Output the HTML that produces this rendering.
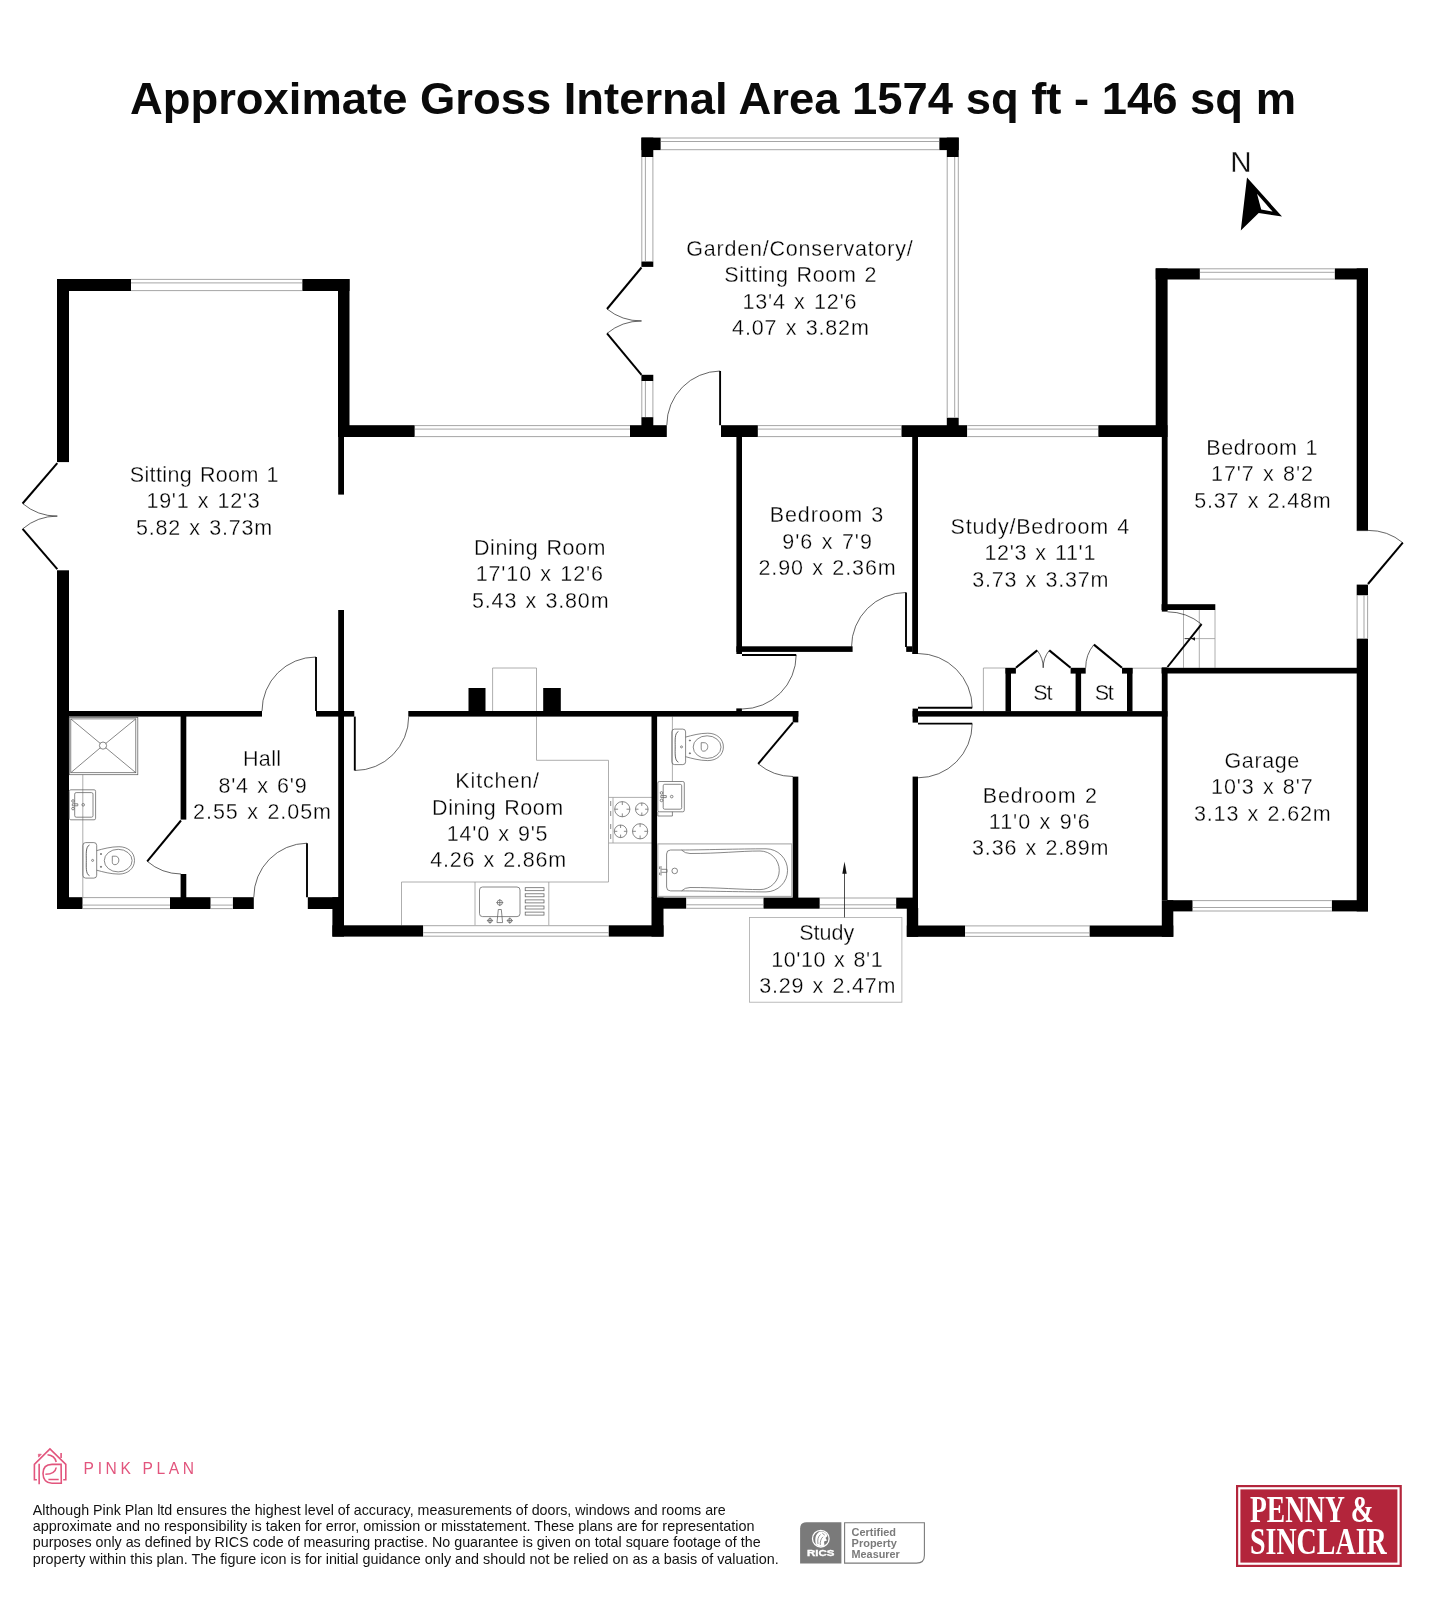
<!DOCTYPE html>
<html lang="en"><head><meta charset="utf-8"><title>Floor plan - Approximate Gross Internal Area 1574 sq ft</title>
<style>
html,body{margin:0;padding:0;background:#fff}
body{width:1435px;height:1600px;overflow:hidden;font-family:"Liberation Sans",sans-serif}
svg{display:block;will-change:transform}
.rm{font-family:"Liberation Sans",sans-serif;font-size:21.5px;fill:#000;stroke:#fff;stroke-width:.3px}
.fx{fill:none;stroke:#606060;stroke-width:.75}
.gl{fill:none;stroke:#999;stroke-width:.8}
</style></head><body>
<svg width="1435" height="1600" viewBox="0 0 1435 1600">
<rect width="1435" height="1600" fill="#fff"/>
<text x="713" y="113.5" text-anchor="middle" font-family="Liberation Sans, sans-serif" font-weight="700" font-size="44.4" fill="#0a0a0a" textLength="1166" lengthAdjust="spacingAndGlyphs">Approximate Gross Internal Area 1574 sq ft - 146 sq m</text>
<g class="gl">
<path d="M492.6 711V668H536.5V711"/>
<path d="M536.5 716.6V760.3H608.5V882H401.5V925.4"/>
<path d="M608.5 797.4H652.4M608.5 843H652.4M613 797.4V843"/>
<path d="M475 882V925.4M548.8 882V925.4"/>
<path d="M82.8 774.7V897.2"/>
<path d="M672.4 716.6V781.5"/>
<path d="M983.4 711V668H1005.5"/>
<path d="M1132.5 668.2H1162"/>
<path d="M1183.5 610V667.8M1199.3 610V667.8M1215 610V667.8M1183.5 638.6H1215"/>
<rect x="749.5" y="917.5" width="152.4" height="84.7" fill="#fff" stroke="#aaa"/>
</g>
<g fill="#000">
<rect x="57.0" y="279.0" width="12.0" height="183.1"/>
<rect x="57.0" y="570.3" width="12.0" height="338.7"/>
<rect x="57.0" y="279.0" width="74.0" height="12.0"/>
<rect x="302.2" y="279.0" width="47.3" height="12.0"/>
<rect x="338.0" y="279.0" width="11.5" height="158.0"/>
<rect x="338.2" y="437.0" width="5.8" height="57.6"/>
<rect x="338.2" y="610.0" width="5.8" height="288.0"/>
<rect x="338.0" y="425.2" width="76.8" height="11.8"/>
<rect x="630.0" y="425.2" width="36.8" height="11.8"/>
<rect x="69.0" y="711.0" width="193.0" height="5.6"/>
<rect x="316.0" y="711.0" width="38.3" height="5.6"/>
<rect x="408.3" y="711.0" width="390.0" height="5.6"/>
<rect x="180.6" y="716.0" width="5.7" height="103.6"/>
<rect x="180.6" y="874.0" width="5.7" height="24.0"/>
<rect x="57.0" y="897.2" width="25.7" height="11.8"/>
<rect x="170.0" y="897.2" width="40.7" height="11.8"/>
<rect x="232.7" y="897.2" width="21.1" height="11.8"/>
<rect x="307.8" y="897.2" width="36.2" height="11.8"/>
<rect x="332.4" y="897.2" width="11.6" height="39.4"/>
<rect x="332.4" y="925.3" width="90.9" height="11.3"/>
<rect x="608.5" y="925.3" width="55.0" height="11.3"/>
<rect x="651.5" y="716.0" width="5.6" height="182.0"/>
<rect x="651.5" y="897.6" width="12.0" height="39.0"/>
<rect x="657.0" y="897.6" width="29.4" height="11.1"/>
<rect x="763.3" y="897.6" width="56.5" height="11.1"/>
<rect x="896.1" y="897.6" width="21.9" height="11.1"/>
<rect x="468.5" y="688.0" width="17.0" height="23.5"/>
<rect x="543.2" y="688.0" width="17.6" height="23.5"/>
<rect x="792.7" y="711.0" width="5.6" height="11.4"/>
<rect x="792.7" y="776.6" width="5.6" height="121.4"/>
<rect x="641.4" y="137.6" width="19.4" height="12.5"/>
<rect x="641.4" y="137.6" width="11.9" height="19.4"/>
<rect x="939.2" y="137.6" width="19.5" height="12.5"/>
<rect x="946.8" y="137.6" width="11.9" height="19.4"/>
<rect x="641.4" y="261.3" width="11.9" height="5.6"/>
<rect x="641.4" y="374.8" width="11.9" height="6.2"/>
<rect x="641.4" y="417.1" width="11.9" height="8.9"/>
<rect x="946.8" y="417.5" width="11.9" height="8.5"/>
<rect x="721.0" y="425.2" width="36.9" height="11.8"/>
<rect x="901.3" y="425.2" width="66.0" height="11.8"/>
<rect x="1098.2" y="425.2" width="69.3" height="11.8"/>
<rect x="736.4" y="437.0" width="5.6" height="217.0"/>
<rect x="736.4" y="646.3" width="116.2" height="5.6"/>
<rect x="906.2" y="646.3" width="6.3" height="5.6"/>
<rect x="912.2" y="437.0" width="5.8" height="217.0"/>
<rect x="736.3" y="708.4" width="5.6" height="3.1"/>
<rect x="912.6" y="711.1" width="254.9" height="5.5"/>
<rect x="912.6" y="708.6" width="5.4" height="14.0"/>
<rect x="912.6" y="776.6" width="5.4" height="123.4"/>
<rect x="906.8" y="908.0" width="11.4" height="28.8"/>
<rect x="906.8" y="925.5" width="58.4" height="11.3"/>
<rect x="1089.4" y="925.5" width="83.9" height="11.3"/>
<rect x="1161.8" y="437.0" width="5.8" height="174.6"/>
<rect x="1161.8" y="667.4" width="5.8" height="232.8"/>
<rect x="1161.8" y="900.2" width="11.5" height="36.6"/>
<rect x="1155.7" y="268.4" width="11.9" height="168.6"/>
<rect x="1155.7" y="268.4" width="44.2" height="11.1"/>
<rect x="1334.6" y="268.4" width="33.4" height="11.1"/>
<rect x="1356.7" y="268.4" width="11.3" height="262.2"/>
<rect x="1356.7" y="584.6" width="11.3" height="10.9"/>
<rect x="1356.7" y="638.4" width="11.3" height="273.0"/>
<rect x="1161.6" y="604.2" width="53.7" height="5.8"/>
<rect x="1161.6" y="667.8" width="195.4" height="5.7"/>
<rect x="1167.0" y="900.2" width="25.7" height="11.2"/>
<rect x="1331.7" y="900.2" width="36.3" height="11.2"/>
<rect x="1005.5" y="668.0" width="5.5" height="43.5"/>
<rect x="1005.5" y="667.8" width="10.4" height="5.8"/>
<rect x="1075.6" y="668.0" width="5.5" height="43.5"/>
<rect x="1070.6" y="667.8" width="15.1" height="5.8"/>
<rect x="1127.0" y="668.0" width="5.5" height="43.5"/>
<rect x="1122.0" y="667.8" width="10.5" height="5.8"/>
</g>
<rect x="131.0" y="279.0" width="171.2" height="12.0" fill="#fff"/>
<line x1="131.0" y1="279.4" x2="302.2" y2="279.4" stroke="#808080" stroke-width="0.7"/>
<line x1="131.0" y1="290.6" x2="302.2" y2="290.6" stroke="#808080" stroke-width="0.7"/>
<line x1="131.0" y1="282.9" x2="302.2" y2="282.9" stroke="#808080" stroke-width="0.7"/>
<rect x="414.8" y="425.2" width="215.2" height="11.8" fill="#fff"/>
<line x1="414.8" y1="425.6" x2="630.0" y2="425.6" stroke="#808080" stroke-width="0.7"/>
<line x1="414.8" y1="436.6" x2="630.0" y2="436.6" stroke="#808080" stroke-width="0.7"/>
<line x1="414.8" y1="429.1" x2="630.0" y2="429.1" stroke="#808080" stroke-width="0.7"/>
<rect x="660.8" y="137.6" width="278.4" height="12.5" fill="#fff"/>
<line x1="660.8" y1="138.0" x2="939.2" y2="138.0" stroke="#808080" stroke-width="0.7"/>
<line x1="660.8" y1="149.7" x2="939.2" y2="149.7" stroke="#808080" stroke-width="0.7"/>
<line x1="660.8" y1="141.5" x2="939.2" y2="141.5" stroke="#808080" stroke-width="0.7"/>
<rect x="641.4" y="157.0" width="11.9" height="104.3" fill="#fff"/>
<line x1="641.8" y1="157.0" x2="641.8" y2="261.3" stroke="#808080" stroke-width="0.7"/>
<line x1="652.9" y1="157.0" x2="652.9" y2="261.3" stroke="#808080" stroke-width="0.7"/>
<line x1="645.4" y1="157.0" x2="645.4" y2="261.3" stroke="#808080" stroke-width="0.7"/>
<rect x="641.4" y="381.0" width="11.9" height="36.1" fill="#fff"/>
<line x1="641.8" y1="381.0" x2="641.8" y2="417.1" stroke="#808080" stroke-width="0.7"/>
<line x1="652.9" y1="381.0" x2="652.9" y2="417.1" stroke="#808080" stroke-width="0.7"/>
<line x1="645.4" y1="381.0" x2="645.4" y2="417.1" stroke="#808080" stroke-width="0.7"/>
<rect x="946.8" y="157.0" width="11.9" height="260.5" fill="#fff"/>
<line x1="947.2" y1="157.0" x2="947.2" y2="417.5" stroke="#808080" stroke-width="0.7"/>
<line x1="958.3" y1="157.0" x2="958.3" y2="417.5" stroke="#808080" stroke-width="0.7"/>
<line x1="954.7" y1="157.0" x2="954.7" y2="417.5" stroke="#808080" stroke-width="0.7"/>
<rect x="757.9" y="425.2" width="143.4" height="11.8" fill="#fff"/>
<line x1="757.9" y1="425.6" x2="901.3" y2="425.6" stroke="#808080" stroke-width="0.7"/>
<line x1="757.9" y1="436.6" x2="901.3" y2="436.6" stroke="#808080" stroke-width="0.7"/>
<line x1="757.9" y1="429.1" x2="901.3" y2="429.1" stroke="#808080" stroke-width="0.7"/>
<rect x="967.3" y="425.2" width="130.9" height="11.8" fill="#fff"/>
<line x1="967.3" y1="425.6" x2="1098.2" y2="425.6" stroke="#808080" stroke-width="0.7"/>
<line x1="967.3" y1="436.6" x2="1098.2" y2="436.6" stroke="#808080" stroke-width="0.7"/>
<line x1="967.3" y1="429.1" x2="1098.2" y2="429.1" stroke="#808080" stroke-width="0.7"/>
<rect x="1199.9" y="268.4" width="134.7" height="11.1" fill="#fff"/>
<line x1="1199.9" y1="268.8" x2="1334.6" y2="268.8" stroke="#808080" stroke-width="0.7"/>
<line x1="1199.9" y1="279.1" x2="1334.6" y2="279.1" stroke="#808080" stroke-width="0.7"/>
<line x1="1199.9" y1="272.3" x2="1334.6" y2="272.3" stroke="#808080" stroke-width="0.7"/>
<rect x="1356.7" y="595.5" width="11.3" height="42.9" fill="#fff"/>
<line x1="1357.1" y1="595.5" x2="1357.1" y2="638.4" stroke="#808080" stroke-width="0.7"/>
<line x1="1367.6" y1="595.5" x2="1367.6" y2="638.4" stroke="#808080" stroke-width="0.7"/>
<line x1="1364.0" y1="595.5" x2="1364.0" y2="638.4" stroke="#808080" stroke-width="0.7"/>
<rect x="1192.7" y="900.2" width="139.0" height="11.2" fill="#fff"/>
<line x1="1192.7" y1="900.6" x2="1331.7" y2="900.6" stroke="#808080" stroke-width="0.7"/>
<line x1="1192.7" y1="911.0" x2="1331.7" y2="911.0" stroke="#808080" stroke-width="0.7"/>
<line x1="1192.7" y1="907.5" x2="1331.7" y2="907.5" stroke="#808080" stroke-width="0.7"/>
<rect x="965.2" y="925.5" width="124.2" height="11.3" fill="#fff"/>
<line x1="965.2" y1="925.9" x2="1089.4" y2="925.9" stroke="#808080" stroke-width="0.7"/>
<line x1="965.2" y1="936.4" x2="1089.4" y2="936.4" stroke="#808080" stroke-width="0.7"/>
<line x1="965.2" y1="932.9" x2="1089.4" y2="932.9" stroke="#808080" stroke-width="0.7"/>
<rect x="819.8" y="897.6" width="76.3" height="11.1" fill="#fff"/>
<line x1="819.8" y1="898.0" x2="896.1" y2="898.0" stroke="#808080" stroke-width="0.7"/>
<line x1="819.8" y1="908.3" x2="896.1" y2="908.3" stroke="#808080" stroke-width="0.7"/>
<line x1="819.8" y1="904.8" x2="896.1" y2="904.8" stroke="#808080" stroke-width="0.7"/>
<rect x="686.4" y="897.6" width="76.9" height="11.1" fill="#fff"/>
<line x1="686.4" y1="898.0" x2="763.3" y2="898.0" stroke="#808080" stroke-width="0.7"/>
<line x1="686.4" y1="908.3" x2="763.3" y2="908.3" stroke="#808080" stroke-width="0.7"/>
<line x1="686.4" y1="904.8" x2="763.3" y2="904.8" stroke="#808080" stroke-width="0.7"/>
<rect x="423.3" y="925.3" width="185.2" height="11.3" fill="#fff"/>
<line x1="423.3" y1="925.7" x2="608.5" y2="925.7" stroke="#808080" stroke-width="0.7"/>
<line x1="423.3" y1="936.2" x2="608.5" y2="936.2" stroke="#808080" stroke-width="0.7"/>
<line x1="423.3" y1="932.7" x2="608.5" y2="932.7" stroke="#808080" stroke-width="0.7"/>
<rect x="82.7" y="897.2" width="87.3" height="11.8" fill="#fff"/>
<line x1="82.7" y1="897.6" x2="170.0" y2="897.6" stroke="#808080" stroke-width="0.7"/>
<line x1="82.7" y1="908.6" x2="170.0" y2="908.6" stroke="#808080" stroke-width="0.7"/>
<line x1="82.7" y1="905.1" x2="170.0" y2="905.1" stroke="#808080" stroke-width="0.7"/>
<rect x="210.7" y="897.2" width="22.0" height="11.8" fill="#fff"/>
<line x1="210.7" y1="897.6" x2="232.7" y2="897.6" stroke="#808080" stroke-width="0.7"/>
<line x1="210.7" y1="908.6" x2="232.7" y2="908.6" stroke="#808080" stroke-width="0.7"/>
<line x1="210.7" y1="905.1" x2="232.7" y2="905.1" stroke="#808080" stroke-width="0.7"/>
<path d="M22.6 503.5A53.2 53.2 0 0 0 57.3 516.1" fill="none" stroke="#222" stroke-width="0.7"/>
<line x1="57.3" y1="463.2" x2="22.6" y2="503.5" stroke="#000" stroke-width="2.0"/>
<path d="M22.6 528.9A53.2 53.2 0 0 1 57.3 516.1" fill="none" stroke="#222" stroke-width="0.7"/>
<line x1="57.3" y1="569.2" x2="22.6" y2="528.9" stroke="#000" stroke-width="2.0"/>
<path d="M316.0 657.0A54.0 54.0 0 0 0 262.0 711.0" fill="none" stroke="#222" stroke-width="0.7"/>
<line x1="316.0" y1="711.0" x2="316.0" y2="657.0" stroke="#000" stroke-width="1.9"/>
<path d="M307.0 843.2A54.0 54.0 0 0 0 253.8 897.2" fill="none" stroke="#222" stroke-width="0.7"/>
<line x1="307.0" y1="897.2" x2="307.0" y2="843.2" stroke="#000" stroke-width="1.9"/>
<path d="M147.2 861.3A53.0 53.0 0 0 0 181.0 874.0" fill="none" stroke="#222" stroke-width="0.7"/>
<line x1="181.0" y1="820.5" x2="147.2" y2="861.3" stroke="#000" stroke-width="2.0"/>
<path d="M354.8 770.5A53.9 53.9 0 0 0 408.7 716.6" fill="none" stroke="#222" stroke-width="0.7"/>
<line x1="354.8" y1="716.6" x2="354.8" y2="770.5" stroke="#000" stroke-width="1.9"/>
<path d="M720.1 371.0A54.2 54.2 0 0 0 666.8 425.2" fill="none" stroke="#222" stroke-width="0.7"/>
<line x1="720.1" y1="425.2" x2="720.1" y2="371.0" stroke="#000" stroke-width="1.9"/>
<path d="M607.0 309.0A54.0 54.0 0 0 0 641.5 320.9" fill="none" stroke="#222" stroke-width="0.7"/>
<line x1="641.5" y1="267.5" x2="607.0" y2="309.0" stroke="#000" stroke-width="2.0"/>
<path d="M607.0 333.4A53.9 53.9 0 0 1 641.5 321.0" fill="none" stroke="#222" stroke-width="0.7"/>
<line x1="641.5" y1="374.8" x2="607.0" y2="333.4" stroke="#000" stroke-width="2.0"/>
<path d="M906.0 592.5A54.5 54.5 0 0 0 851.5 647.0" fill="none" stroke="#222" stroke-width="0.7"/>
<line x1="906.0" y1="647.0" x2="906.0" y2="592.5" stroke="#000" stroke-width="1.9"/>
<path d="M796.2 654.9A54.2 54.2 0 0 1 742.0 709.0" fill="none" stroke="#222" stroke-width="0.7"/>
<line x1="742.0" y1="654.9" x2="796.2" y2="654.9" stroke="#000" stroke-width="2.0"/>
<path d="M758.2 763.8A54.1 54.1 0 0 0 793.0 776.5" fill="none" stroke="#222" stroke-width="0.7"/>
<line x1="793.0" y1="722.4" x2="758.2" y2="763.8" stroke="#000" stroke-width="2.0"/>
<path d="M972.2 707.7A54.2 54.2 0 0 0 918.0 653.5" fill="none" stroke="#222" stroke-width="0.7"/>
<line x1="918.0" y1="707.7" x2="972.2" y2="707.7" stroke="#000" stroke-width="1.9"/>
<path d="M972.2 723.6A54.2 54.2 0 0 1 918.0 777.8" fill="none" stroke="#222" stroke-width="0.7"/>
<line x1="918.0" y1="723.6" x2="972.2" y2="723.6" stroke="#000" stroke-width="1.9"/>
<path d="M1201.6 624.2A54.7 54.7 0 0 0 1167.5 611.8" fill="none" stroke="#222" stroke-width="0.7"/>
<line x1="1167.5" y1="667.0" x2="1201.6" y2="624.2" stroke="#000" stroke-width="2.0"/>
<path d="M1402.8 542.7A54.0 54.0 0 0 0 1368.0 530.4" fill="none" stroke="#222" stroke-width="0.7"/>
<line x1="1368.0" y1="584.0" x2="1402.8" y2="542.7" stroke="#000" stroke-width="2.0"/>
<line x1="1356.8" y1="530.6" x2="1368" y2="530.6" stroke="#222" stroke-width=".7"/>
<path d="M1037.2 650.4A27.5 27.5 0 0 1 1043.2 667.8" fill="none" stroke="#222" stroke-width="0.7"/>
<line x1="1015.9" y1="667.8" x2="1037.2" y2="650.4" stroke="#000" stroke-width="2.1"/>
<path d="M1049.3 650.4A27.5 27.5 0 0 0 1043.2 667.8" fill="none" stroke="#222" stroke-width="0.7"/>
<line x1="1070.6" y1="667.8" x2="1049.3" y2="650.4" stroke="#000" stroke-width="2.1"/>
<path d="M1093.9 644.6A36.4 36.4 0 0 0 1085.7 667.8" fill="none" stroke="#222" stroke-width="0.7"/>
<line x1="1122.0" y1="667.8" x2="1093.9" y2="644.6" stroke="#000" stroke-width="2.1"/>
<g class="fx">
<rect x="69.3" y="717.4" width="68.5" height="57.3"/><rect x="70.8" y="718.9" width="65" height="53.8"/>
<path d="M70.8 718.9L100.4 743.5M135.8 718.9L105.7 743.5M70.8 772.7L100.4 747.7M135.8 772.7L105.7 747.7"/><circle cx="103" cy="745.6" r="3.6"/>
<rect x="69.3" y="789.8" width="26.3" height="30.0" rx="1.5"/>
<rect x="74.7" y="792.6" width="18.3" height="24.6" rx="1.5"/>
<circle cx="83.2" cy="804.8" r="1.3"/>
<path d="M72.3 803.8H77.8V805.8H72.3Z"/><circle cx="73.0" cy="801.0" r="1.3"/><circle cx="73.0" cy="808.6" r="1.3"/>
<rect x="82.9" y="842.6" width="13.8" height="35.5" rx="2.8"/>
<path d="M89.5 845.0C85.5 846.6 86.3 854.6 86.3 860.4C86.3 866.1 85.5 874.1 89.5 875.7" stroke="#333"/>
<path d="M96.7 850.6C102.9 848.9 110.9 846.7 118.9 846.7C127.9 846.7 134.5 852.4 134.5 860.4C134.5 868.4 127.9 874.1 118.9 874.1C110.9 874.1 102.9 871.9 96.7 870.2"/>
<ellipse cx="118.2" cy="860.6" rx="13.9" ry="11.3"/>
<path d="M112.3 856.2H115.3C120.3 856.2 119.9 864.7 114.9 864.7C112.7 864.7 112.3 863.4 112.3 861.4Z"/>
<circle cx="92.6" cy="860.4" r="1"/><circle cx="101.0" cy="854.0" r=".6" fill="#555"/><circle cx="101.0" cy="866.8" r=".6" fill="#555"/>
<rect x="671.8" y="729.1" width="13.8" height="35.5" rx="2.8"/>
<path d="M678.4 731.5C674.4 733.1 675.2 741.1 675.2 746.9C675.2 752.6 674.4 760.6 678.4 762.2" stroke="#333"/>
<path d="M685.6 737.1C691.8 735.4 699.8 733.2 707.8 733.2C716.8 733.2 723.4 738.9 723.4 746.9C723.4 754.9 716.8 760.6 707.8 760.6C699.8 760.6 691.8 758.4 685.6 756.7"/>
<ellipse cx="707.1" cy="747.1" rx="13.9" ry="11.3"/>
<path d="M701.2 742.7H704.2C709.2 742.7 708.8 751.2 703.8 751.2C701.6 751.2 701.2 749.9 701.2 747.9Z"/>
<circle cx="681.5" cy="746.9" r="1"/><circle cx="689.9" cy="740.5" r=".6" fill="#555"/><circle cx="689.9" cy="753.3" r=".6" fill="#555"/>
<rect x="657.8" y="781.5" width="26.5" height="30.3" rx="1.5"/>
<rect x="663.2" y="784.3" width="18.5" height="24.9" rx="1.5"/>
<circle cx="671.7" cy="796.6" r="1.3"/>
<path d="M660.8 795.6H666.3V797.6H660.8Z"/><circle cx="661.5" cy="792.9" r="1.3"/><circle cx="661.5" cy="800.4" r="1.3"/>
<path d="M657.8 811.8V816H672.4V811.8"/>
<rect x="657.8" y="843.9" width="134" height="52.5" stroke="#a8a8a8" stroke-width="1.1"/>
<path d="M670.5 850H681.5C700 850 740 848.8 766 848.8A21.55 21.55 0 0 1 766 891.9C740 891.9 700 890.9 681.5 890.9H670.5Q666.6 890.9 666.6 887V854Q666.6 850 670.5 850Z"/>
<path d="M681.5 850Q685 853.5 690 853.5C720 853.5 740 851 760 851A19.3 19.3 0 0 1 760 889.6C740 889.6 720 887.5 690 887.5Q685 887.5 681.5 890.9"/>
<circle cx="674.7" cy="870.9" r="2.8"/><path d="M661.5 869.3H667V872.3H661.5M661 866V875.6M659.6 866.5V869M659.6 872.6V875"/>
<circle cx="622.3" cy="809.2" r="7.6"/><circle cx="641.8" cy="809.2" r="6.3"/><circle cx="620.6" cy="831.3" r="6.3"/><circle cx="640.1" cy="831.3" r="7.6"/>
<path d="M622.3 801.6V805M622.3 813.4V816.8M614.7 809.2H618.1M626.5 809.2H629.9M641.8 802.9V805.9M641.8 812.5V815.5M635.5 809.2H638.5M645.1 809.2H648.1M620.6 825V828M620.6 834.6V837.6M614.3 831.3H617.3M623.9 831.3H626.9M640.1 823.7V827.1M640.1 835.5V838.9M632.5 831.3H635.9M644.3 831.3H647.7"/>
<path d="M610.7 801V806M610.7 811V816M610.7 824V829M610.7 834V839"/>
<rect x="479.5" y="887" width="40.5" height="29.6" rx="3"/>
<rect x="525.2" y="887.7" width="18.8" height="3"/>
<rect x="525.2" y="893.8" width="18.8" height="3"/>
<rect x="525.2" y="899.9" width="18.8" height="3"/>
<rect x="525.2" y="906" width="18.8" height="3"/>
<rect x="525.2" y="912.1" width="18.8" height="3"/>
<circle cx="499.8" cy="902.6" r="2.6"/><path d="M496.3 902.6H503.3M499.8 899.1V906.1"/>
<path d="M498.3 909.5H501.3L502.6 922.6H497Z"/>
<circle cx="490" cy="920.6" r="2.1"/><circle cx="509.8" cy="920.6" r="2.1"/><path d="M486.9 920.6H493.1M490 917.5V923.7M506.7 920.6H512.9M509.8 917.5V923.7"/>
</g>
<path d="M1185 638.6H1195" stroke="#222" stroke-width=".8" fill="none"/><path d="M1191 638.6L1195 637.2V640.8Z" fill="#111"/>
<path d="M844.5 872V917.4" stroke="#222" stroke-width=".8" fill="none"/><path d="M844.5 861.4L846.7 873.8H842.3Z" fill="#111"/>
<text x="1241" y="171.5" font-family="Liberation Sans, sans-serif" font-size="29.6" fill="#111" text-anchor="middle" stroke="#fff" stroke-width=".3">N</text>
<path d="M1247 177.5L1282 216.5L1258.7 213L1240.8 230.4Z" fill="#000"/><path d="M1257 193.8L1272.6 211.6L1261.2 209.6Z" fill="#fff"/>
<text class="rm" x="129.70" y="482.2" letter-spacing="0.37" word-spacing="1.5">Sitting Room 1</text>
<text class="rm" x="146.45" y="508.4" letter-spacing="0.76" word-spacing="1.5">19'1 x 12'3</text>
<text class="rm" x="135.90" y="535.0" letter-spacing="0.82" word-spacing="1.5">5.82 x 3.73m</text>
<text class="rm" x="474.00" y="554.8" letter-spacing="0.57" word-spacing="1.5">Dining Room</text>
<text class="rm" x="475.65" y="581.3" letter-spacing="0.88" word-spacing="1.5">17'10 x 12'6</text>
<text class="rm" x="472.00" y="607.5" letter-spacing="0.84" word-spacing="1.5">5.43 x 3.80m</text>
<text class="rm" x="686.35" y="255.9" letter-spacing="0.78" word-spacing="1.5">Garden/Conservatory/</text>
<text class="rm" x="724.35" y="282.2" letter-spacing="0.63" word-spacing="1.5">Sitting Room 2</text>
<text class="rm" x="742.40" y="308.6" letter-spacing="0.85" word-spacing="1.5">13'4 x 12'6</text>
<text class="rm" x="732.10" y="335.4" letter-spacing="0.86" word-spacing="1.5">4.07 x 3.82m</text>
<text class="rm" x="769.85" y="522.3" letter-spacing="0.85" word-spacing="1.5">Bedroom 3</text>
<text class="rm" x="782.35" y="549.1" letter-spacing="0.97" word-spacing="1.5">9'6 x 7'9</text>
<text class="rm" x="758.40" y="575.3" letter-spacing="0.91" word-spacing="1.5">2.90 x 2.36m</text>
<text class="rm" x="950.55" y="534.3" letter-spacing="0.79" word-spacing="1.5">Study/Bedroom 4</text>
<text class="rm" x="984.40" y="560.1" letter-spacing="0.69" word-spacing="1.5">12'3 x 11'1</text>
<text class="rm" x="972.30" y="586.5" letter-spacing="0.80" word-spacing="1.5">3.73 x 3.37m</text>
<text class="rm" x="1206.35" y="454.9" letter-spacing="0.57" word-spacing="1.5">Bedroom 1</text>
<text class="rm" x="1211.10" y="481.0" letter-spacing="0.90" word-spacing="1.5">17'7 x 8'2</text>
<text class="rm" x="1194.20" y="507.9" letter-spacing="0.84" word-spacing="1.5">5.37 x 2.48m</text>
<text class="rm" x="1224.45" y="767.7" letter-spacing="0.63" word-spacing="1.5">Garage</text>
<text class="rm" x="1211.10" y="794.0" letter-spacing="0.87" word-spacing="1.5">10'3 x 8'7</text>
<text class="rm" x="1193.90" y="820.7" letter-spacing="0.87" word-spacing="1.5">3.13 x 2.62m</text>
<text class="rm" x="982.70" y="802.6" letter-spacing="0.94" word-spacing="1.5">Bedroom 2</text>
<text class="rm" x="988.85" y="828.6" letter-spacing="0.97" word-spacing="1.5">11'0 x 9'6</text>
<text class="rm" x="972.10" y="855.3" letter-spacing="0.82" word-spacing="1.5">3.36 x 2.89m</text>
<text class="rm" x="242.90" y="765.8" letter-spacing="0.38" word-spacing="1.5">Hall</text>
<text class="rm" x="218.40" y="792.5" letter-spacing="0.83" word-spacing="1.5">8'4 x 6'9</text>
<text class="rm" x="193.05" y="818.9" letter-spacing="0.97" word-spacing="1.5">2.55 x 2.05m</text>
<text class="rm" x="455.35" y="788.1" letter-spacing="0.86" word-spacing="1.5">Kitchen/</text>
<text class="rm" x="432.10" y="814.5" letter-spacing="0.53" word-spacing="1.5">Dining Room</text>
<text class="rm" x="446.80" y="840.9" letter-spacing="0.78" word-spacing="1.5">14'0 x 9'5</text>
<text class="rm" x="430.15" y="867.2" letter-spacing="0.79" word-spacing="1.5">4.26 x 2.86m</text>
<text class="rm" x="799.20" y="940.2" letter-spacing="0.04" word-spacing="1.5">Study</text>
<text class="rm" x="771.15" y="966.6" letter-spacing="0.58" word-spacing="1.5">10'10 x 8'1</text>
<text class="rm" x="759.20" y="992.9" letter-spacing="0.82" word-spacing="1.5">3.29 x 2.47m</text>
<text class="rm" x="1033.35" y="699.8" letter-spacing="-1.24" word-spacing="1.5">St</text>
<text class="rm" x="1094.75" y="699.8" letter-spacing="-1.24" word-spacing="1.5">St</text>
<g fill="none" stroke="#e2557d" stroke-width="1.6" stroke-linejoin="miter">
<path d="M36.9 1479.7H34.4V1464.4L49.95 1448.9L65.8 1464.4V1479.7H63.2"/>
<path d="M39.15 1463.7V1484.3M61.1 1452.9V1458.1"/>
<path d="M47.5 1454.8C52 1455.2 55.3 1458 56.2 1462"/>
<path d="M61.1 1464.4H52C46 1464.4 43 1468 43 1473.6C43 1479.6 46.5 1483.2 52 1483.2H61.3Z"/>
<path d="M56.2 1467.5C55.5 1472 51.5 1474.3 45.4 1474.3M48.4 1479.5H58.7"/>
<path d="M38.3 1454.2H41.4L38.6 1457.2Z" fill="#e2557d" stroke-width=".6"/>
</g>
<text x="83.6" y="1473.5" font-family="Liberation Sans, sans-serif" font-size="15.6" fill="#e2557d" textLength="110.5" lengthAdjust="spacing">PINK PLAN</text>
<text x="32.8" y="1514.5" font-family="Liberation Sans, sans-serif" font-size="14.4" fill="#111" textLength="693.0" lengthAdjust="spacingAndGlyphs">Although Pink Plan ltd ensures the highest level of accuracy, measurements of doors, windows and rooms are</text>
<text x="32.8" y="1530.8" font-family="Liberation Sans, sans-serif" font-size="14.4" fill="#111" textLength="721.6" lengthAdjust="spacingAndGlyphs">approximate and no responsibility is taken for error, omission or misstatement. These plans are for representation</text>
<text x="32.8" y="1547.2" font-family="Liberation Sans, sans-serif" font-size="14.4" fill="#111" textLength="727.8" lengthAdjust="spacingAndGlyphs">purposes only as defined by RICS code of measuring practise. No guarantee is given on total square footage of the</text>
<text x="32.8" y="1563.5" font-family="Liberation Sans, sans-serif" font-size="14.4" fill="#111" textLength="745.9" lengthAdjust="spacingAndGlyphs">property within this plan. The figure icon is for initial guidance only and should not be relied on as a basis of valuation.</text>
<path d="M806.4 1522.3H841.4V1563.6H800.1V1528.6Q800.1 1522.3 806.4 1522.3Z" fill="#7a7a7a"/>
<path d="M844.6 1522.8H924.4V1555.5Q924.4 1563.1 916.5 1563.1H844.6Z" fill="#fff" stroke="#7a7a7a" stroke-width="1.1"/>
<circle cx="820.8" cy="1538.7" r="8.3" fill="none" stroke="#fff" stroke-width="1.3"/><path d="M816 1544.5C814.5 1539 815.5 1534 819.5 1531.8C823 1530.8 826.5 1532.5 827.5 1536L825.5 1538L827 1540.5L824 1541.5L824.5 1545.5C821.5 1547 818 1546.5 816 1544.5Z" fill="#fff"/><path d="M818 1544C817.3 1540 818 1536.5 820.5 1534.5M820.3 1545C820 1541.5 821 1538.5 823 1536.8M822.3 1533.2L824.8 1535.2" fill="none" stroke="#7a7a7a" stroke-width=".8"/>
<text x="820.7" y="1556" stroke="#fff" stroke-width=".35" font-family="Liberation Sans, sans-serif" font-weight="700" font-size="9.2" fill="#fff" text-anchor="middle" textLength="27.5" lengthAdjust="spacingAndGlyphs">RICS</text>
<text x="851.6" y="1535.7" font-family="Liberation Sans, sans-serif" font-weight="700" font-size="10.6" fill="#7a7a7a" textLength="44.4" lengthAdjust="spacingAndGlyphs">Certified</text>
<text x="851.6" y="1546.9" font-family="Liberation Sans, sans-serif" font-weight="700" font-size="10.6" fill="#7a7a7a" textLength="45.2" lengthAdjust="spacingAndGlyphs">Property</text>
<text x="851.6" y="1558.1" font-family="Liberation Sans, sans-serif" font-weight="700" font-size="10.6" fill="#7a7a7a" textLength="48.1" lengthAdjust="spacingAndGlyphs">Measurer</text>
<rect x="1236" y="1485" width="165.8" height="82" fill="#b3253b"/><rect x="1239.3" y="1488.3" width="159.2" height="75.4" fill="none" stroke="#fff" stroke-width="2.2"/>
<text x="1250" y="1522.2" font-family="Liberation Serif, serif" font-weight="700" font-size="37.6" fill="#fff" textLength="123.6" lengthAdjust="spacingAndGlyphs">PENNY &amp;</text>
<text x="1250" y="1554.2" font-family="Liberation Serif, serif" font-weight="700" font-size="37.6" fill="#fff" textLength="136.7" lengthAdjust="spacingAndGlyphs">SINCLAIR</text>
</svg></body></html>
